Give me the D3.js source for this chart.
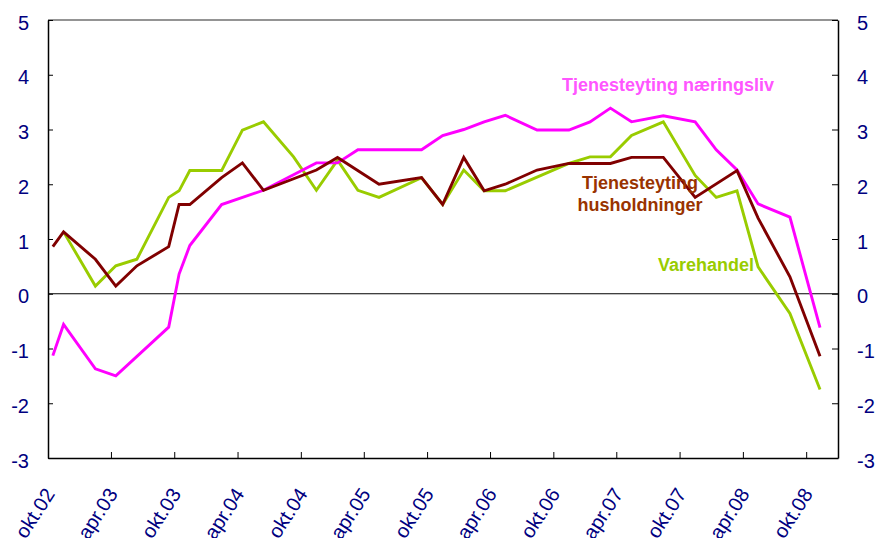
<!DOCTYPE html>
<html>
<head>
<meta charset="utf-8">
<script src="https://cdn.jsdelivr.net/npm/d3@7"></script>
<style>
body { margin: 0; background: #ffffff; }
</style>
</head>
<body>
<script>
// survey dates (about mid-month)
var dates = ["2002-10-15", "2002-11-15", "2003-02-15", "2003-04-15", "2003-06-15", "2003-09-15",
    "2003-10-15", "2003-11-15", "2004-02-15", "2004-04-15", "2004-06-15", "2004-09-10",
    "2004-11-15", "2005-01-15", "2005-03-15", "2005-05-15", "2005-09-15", "2005-11-15",
    "2006-01-15", "2006-03-15", "2006-05-15", "2006-08-15", "2006-11-15", "2007-01-15",
    "2007-03-15", "2007-05-15", "2007-08-15", "2007-11-15", "2008-01-15", "2008-03-15",
    "2008-05-15", "2008-08-15", "2008-11-10"];

// null = no point at that date for the series
var naeringsliv = [-1.13, -0.56, -1.37, -1.50, null, -0.61, 0.36, 0.88, 1.63, null, 1.89, null,
    2.39, 2.39, 2.63, null, 2.63, 2.89, 3.00, 3.14, 3.26, 2.99, 2.99, 3.14,
    3.39, 3.14, 3.25, 3.14, 2.63, 2.26, 1.64, 1.40, -0.62];
var husholdninger = [0.86, 1.13, 0.63, 0.14, 0.51, 0.86, 1.63, 1.63, 2.12, 2.39, 1.89, null,
    2.26, 2.49, null, 2.00, 2.12, 1.63, 2.49, 1.88, 2.00, 2.26, 2.38, null,
    2.38, 2.49, 2.49, 1.76, null, 2.25, 1.38, 0.31, -1.14];
var varehandel = [null, 1.13, 0.14, 0.51, 0.63, 1.76, 1.88, 2.25, 2.25, 2.99, 3.14, 2.50,
    1.89, 2.44, 1.89, 1.76, 2.12, 1.63, 2.26, 1.88, 1.88, null, 2.38, 2.50,
    2.50, 2.89, 3.14, 2.16, 1.76, 1.88, 0.49, -0.36, -1.75];

var xTickDates = ["2002-10-01", "2003-04-01", "2003-10-01", "2004-04-01", "2004-10-01", "2005-04-01",
    "2005-10-01", "2006-04-01", "2006-10-01", "2007-04-01", "2007-10-01", "2008-04-01", "2008-10-01"];
var xTickLabels = ["okt.02", "apr.03", "okt.03", "apr.04", "okt.04", "apr.05",
    "okt.05", "apr.06", "okt.06", "apr.07", "okt.07", "apr.08", "okt.08"];
var yTicks = [-3, -2, -1, 0, 1, 2, 3, 4, 5];

var W = 884, H = 538;
var pLeft = 48, pRight = 838, pTop = 20, pBottom = 458;
var parse = d3.timeParse("%Y-%m-%d");

var svg = d3.select("body")
    .append("svg")
    .attr("width", W)
    .attr("height", H)
    .style("font-family", "Arial, 'Liberation Sans', sans-serif");

var x = d3.scaleTime()
    .domain([parse("2002-10-01"), parse("2009-01-01")])
    .range([pLeft, pRight]);
var y = d3.scaleLinear()
    .domain([-3, 5])
    .range([pBottom, pTop]);

// frame top
svg.append("line")
    .attr("x1", pLeft).attr("x2", pRight)
    .attr("y1", pTop).attr("y2", pTop)
    .attr("stroke", "#707070")
    .attr("stroke-width", 1.5);

// zero line
svg.append("line")
    .attr("x1", pLeft).attr("x2", pRight)
    .attr("y1", y(0)).attr("y2", y(0))
    .attr("stroke", "#000")
    .attr("stroke-width", 1);

function styleAxis(g) {
    g.select(".domain").attr("stroke", "#000").attr("stroke-width", 1.5);
    g.selectAll(".tick line").attr("stroke", "#000").attr("stroke-width", 1);
    g.selectAll("text")
        .attr("fill", "#000080")
        .style("font-size", "20px")
        .style("font-family", "Arial, 'Liberation Sans', sans-serif");
}
// plain hyphen for negatives, like the original
var yFmt = function (d) { return String(d); };

var yLeft = svg.append("g")
    .attr("transform", "translate(" + pLeft + ",0)")
    .call(d3.axisLeft(y).tickValues(yTicks).tickFormat(yFmt).tickSize(-5).tickSizeOuter(0).tickPadding(19));
styleAxis(yLeft);
yLeft.selectAll("text").attr("dy", "0.45em");

var yRight = svg.append("g")
    .attr("transform", "translate(" + pRight + ",0)")
    .call(d3.axisRight(y).tickValues(yTicks).tickFormat(yFmt).tickSize(-6).tickSizeOuter(0).tickPadding(19));
styleAxis(yRight);
yRight.selectAll("text").attr("dy", "0.45em");

var xAxis = svg.append("g")
    .attr("transform", "translate(0," + pBottom + ")")
    .call(d3.axisBottom(x)
        .tickValues(xTickDates.map(parse))
        .tickFormat(function (d, i) { return xTickLabels[i]; })
        .tickSize(-6)
        .tickSizeOuter(0));
styleAxis(xAxis);
xAxis.selectAll("text")
    .attr("x", 0)
    .attr("y", 0)
    .attr("dy", 0)
    .attr("text-anchor", "end")
    .attr("transform", "translate(7,36) rotate(-57)");

// series
function points(vals) {
    var out = [];
    vals.forEach(function (v, i) {
        if (v !== null) out.push({ date: parse(dates[i]), v: v });
    });
    return out;
}
var line = d3.line()
    .x(function (d) { return x(d.date); })
    .y(function (d) { return y(d.v); });

var series = [
    { vals: varehandel, color: "#99cc00" },
    { vals: naeringsliv, color: "#ff00ff" },
    { vals: husholdninger, color: "#800000" }
];
series.forEach(function (s) {
    svg.append("path")
        .datum(points(s.vals))
        .attr("d", line)
        .attr("fill", "none")
        .attr("stroke", s.color)
        .attr("stroke-width", 2.9)
        .attr("stroke-linejoin", "miter");
});

// labels
function label(txt, lx, ly, color, anchor) {
    svg.append("text")
        .attr("x", lx)
        .attr("y", ly)
        .attr("fill", color)
        .attr("text-anchor", anchor)
        .style("font-size", "18px")
        .style("font-weight", "bold")
        .text(txt);
}
label("Tjenesteyting næringsliv", 562, 91, "#ff55ff", "start");
label("Tjenesteyting", 640, 189, "#993300", "middle");
label("husholdninger", 640, 211, "#993300", "middle");
label("Varehandel", 658, 271, "#99cc00", "start");
</script>
</body>
</html>
